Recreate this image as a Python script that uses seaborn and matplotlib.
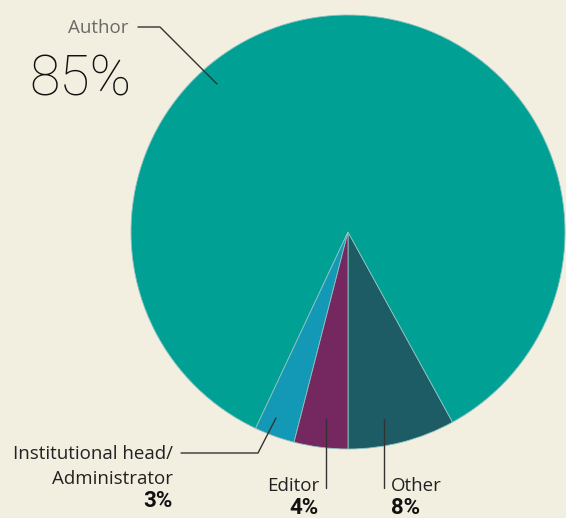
import matplotlib
matplotlib.use("Agg")
import matplotlib.pyplot as plt
from matplotlib import font_manager
import seaborn as sns

# Data
categories = ["Other", "Author", "Institutional head/\nAdministrator", "Editor"]
shares = [8, 85, 3, 4]
pct_labels = ["8%", "85%", "3%", "4%"]
colors = ["#1d5c64", "#00a094", "#1399b6", "#74285f"]

BG = "#f2eee0"
sns.set_theme(style="white", rc={"figure.facecolor": BG, "axes.facecolor": BG})

names = {f.name for f in font_manager.fontManager.ttflist}
def pick(cands, default="DejaVu Sans"):
    for c in cands:
        if c in names:
            return c
    return default

label_font = pick(["Open Sans", "Noto Sans", "DejaVu Sans"])
narrow_font = pick(["Liberation Sans Narrow", "DejaVu Sans Condensed", "Roboto", "DejaVu Sans"])
thin_font = pick(["Liberation Sans Narrow", "Roboto", "Lato", "DejaVu Sans"])

W, H = 566, 518
fig = plt.figure(figsize=(W / 100, H / 100), dpi=100)
ax = fig.add_axes([0, 0, 1, 1])

def Y(y):
    return H - y

cx, cy, r = 348, 232, 217
ax.pie(shares, colors=colors, startangle=-90, counterclock=True,
       center=(cx, Y(cy)), radius=r,
       wedgeprops=dict(edgecolor="#8fc2c0", linewidth=0.6))
ax.set_xlim(0, W)
ax.set_ylim(0, H)
ax.set_aspect("auto")
ax.axis("off")

lc = "#333333"
lw = 1.0
fs = 13.5

# Author
ax.plot([138, 160, 217], [Y(27), Y(27), Y(84)], color=lc, lw=lw)
ax.text(129, Y(28), "Author", ha="right", va="center", fontsize=fs,
        color="#6a6a6a", family=label_font)
ax.text(131, Y(80), pct_labels[1], ha="right", va="center", fontsize=40,
        color="#111111", family=thin_font, fontweight="light")

# Institutional head / Administrator
line1, line2 = categories[2].split("\n")
ax.plot([181, 258, 276], [Y(453), Y(453), Y(418)], color=lc, lw=lw)
ax.text(173, Y(454), line1, ha="right", va="center", fontsize=fs,
        color="#222222", family=label_font)
ax.text(173, Y(479), line2, ha="right", va="center", fontsize=fs,
        color="#222222", family=label_font)
ax.text(173, Y(501), pct_labels[2], ha="right", va="center", fontsize=16,
        color="#111111", family=narrow_font, fontweight="bold")

# Editor
ax.plot([326, 326], [Y(419), Y(488)], color=lc, lw=lw)
ax.text(319, Y(486), categories[3], ha="right", va="center", fontsize=fs,
        color="#222222", family=label_font)
ax.text(319, Y(508), pct_labels[3], ha="right", va="center", fontsize=16,
        color="#111111", family=narrow_font, fontweight="bold")

# Other
ax.plot([384, 384], [Y(419), Y(488)], color=lc, lw=lw)
ax.text(391, Y(486), categories[0], ha="left", va="center", fontsize=fs,
        color="#222222", family=label_font)
ax.text(391, Y(508), pct_labels[0], ha="left", va="center", fontsize=16,
        color="#111111", family=narrow_font, fontweight="bold")

fig.savefig("out.png", dpi=100, facecolor=BG)
